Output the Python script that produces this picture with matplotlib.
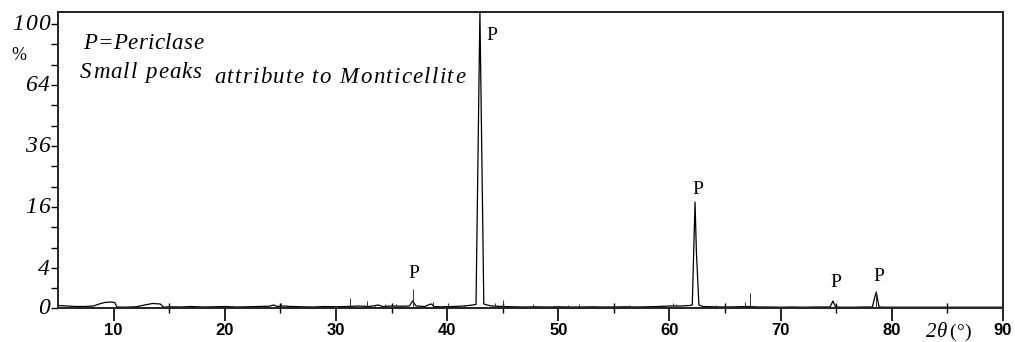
import numpy as np
import matplotlib.pyplot as plt
from matplotlib.ticker import FixedLocator, NullFormatter
from matplotlib.transforms import IdentityTransform

# Continuous XRD trace (2theta in degrees, relative intensity in %)
trace_2theta = [5.0, 5.8, 6.6, 7.4, 8.2, 8.7, 9.2, 9.8, 10.1, 10.3, 11.0, 12.0, 12.8,
                13.5, 14.2, 14.5, 15.0, 16.0, 17.0, 18.0, 19.0, 20.0, 21.0, 22.0, 23.0,
                24.0, 24.4, 24.7, 25.3, 26.0, 27.0, 28.0, 29.0, 30.0, 31.0, 32.0, 33.0,
                33.8, 34.2, 35.0, 36.0, 36.6, 36.9, 37.2, 38.0, 38.4, 38.6, 38.8, 39.5,
                40.5, 41.5, 42.3, 42.6, 42.95, 43.3, 43.6, 44.0, 45.0, 46.0, 47.0, 48.0,
                49.0, 50.0, 51.0, 52.0, 53.0, 54.0, 55.0, 56.0, 57.0, 58.0, 59.0, 60.0,
                61.0, 61.8, 62.05, 62.3, 62.42, 62.65, 63.0, 64.0, 65.0, 66.0, 67.0, 68.0,
                69.0, 70.0, 71.0, 72.0, 73.0, 74.0, 74.45, 74.7, 74.95, 75.5, 76.5, 77.5,
                78.25, 78.45, 78.6, 78.85, 79.3, 80.0, 81.0, 82.0, 83.0, 84.0, 85.0, 86.0,
                87.0, 88.0, 89.0, 90.0]
trace_counts = [0.25, 0.2, 0.15, 0.15, 0.2, 0.4, 0.55, 0.6, 0.55, 0.1, 0.08, 0.12, 0.3,
                0.45, 0.4, 0.08, 0.12, 0.1, 0.15, 0.1, 0.12, 0.15, 0.1, 0.12, 0.15,
                0.18, 0.3, 0.15, 0.2, 0.15, 0.12, 0.1, 0.15, 0.12, 0.15, 0.2, 0.15,
                0.3, 0.15, 0.2, 0.18, 0.2, 0.7, 0.2, 0.15, 0.35, 0.4, 0.15, 0.12,
                0.15, 0.2, 0.3, 0.35, 108.0, 0.4, 0.3, 0.2, 0.15, 0.12, 0.1, 0.12,
                0.1, 0.12, 0.1, 0.1, 0.12, 0.1, 0.1, 0.12, 0.1, 0.12, 0.15, 0.2,
                0.2, 0.25, 0.3, 17.3, 6.5, 0.3, 0.15, 0.12, 0.1, 0.12, 0.15, 0.1,
                0.1, 0.08, 0.1, 0.08, 0.1, 0.1, 0.1, 0.7, 0.1, 0.08, 0.08, 0.1,
                0.1, 1.0, 1.6, 0.1, 0.08, 0.08, 0.08, 0.08, 0.08, 0.08, 0.08, 0.08,
                0.08, 0.08, 0.08, 0.08]

# Narrow reflections (monticellite and noise sticks)
stick_2theta = [24.6, 25.1, 31.3, 32.8, 33.5, 34.4, 35.4, 36.9, 38.7, 40.1, 41.5,
                44.3, 45.0, 47.7, 50.9, 51.9, 54.5, 56.4, 57.0, 60.3, 60.6, 64.2,
                66.8, 67.2, 78.6]
stick_counts = [0.3, 0.55, 1.0, 0.7, 0.3, 0.4, 0.45, 1.9, 0.6, 0.5, 0.3,
                0.5, 0.8, 0.4, 0.35, 0.4, 0.25, 0.3, 0.25, 0.5, 0.4, 0.3,
                0.6, 1.5, 1.6]

# Periclase reflections and the intensity the "P" labels sit above
periclase_2theta = [36.9, 42.95, 62.3, 74.7, 78.6]
periclase_counts = [1.9, 100.0, 17.3, 0.7, 1.6]
label_offsets = [(1, 5), (5, -2), (2, 3), (2, 7), (2, 5)]

y_major = [0, 4, 16, 36, 64, 100]
x_major = [10, 20, 30, 40, 50, 60, 70, 80, 90]
x_minor = [15, 25, 35, 45, 55, 65, 75, 85]

W, H = 1015, 342
SERIF = 'Liberation Serif'

# square-root intensity axis, linear below 4 %
LOW = 0.689


def fwd(v):
    v = np.asarray(v, dtype=float)
    return np.where(v >= 4, np.sqrt(np.clip(v, 4, None)), LOW + (2 - LOW) / 4 * v)


def inv(u):
    u = np.asarray(u, dtype=float)
    return np.where(u >= 2, np.clip(u, 2, None) ** 2, (u - LOW) * 4 / (2 - LOW))


fig = plt.figure(figsize=(W / 100, H / 100), dpi=100)
renderer = fig.canvas.get_renderer()


def spaced_text(x, y, s, size, width=None, track=0.0, right=False, **kw):
    """Letter-spaced text placed in pixels (y measured from the top).
    Returns the x pixel where the text ends."""
    kw.setdefault('family', SERIF)
    kw.setdefault('style', 'italic')
    widths = []
    for ch in s:
        if ch == ' ':
            widths.append(size * 100 / 72 * 0.25)
            continue
        t = fig.text(0, 0, ch, fontsize=size, **kw)
        widths.append(t.get_window_extent(renderer).width)
        t.remove()
    natural = sum(widths)
    if width is not None and len(s) > 1:
        track = (width - natural) / (len(s) - 1)
    total = natural + track * (len(s) - 1)
    cx = x - total if right else x
    for ch, w in zip(s, widths):
        if ch != ' ':
            fig.text(cx, H - y, ch, fontsize=size, transform=IdentityTransform(),
                     va='baseline', ha='left', **kw)
        cx += w + track
    return cx - track


ax = fig.add_axes([58 / W, 1 - 308 / H, 945 / W, 296 / H])
ax.set_yscale('function', functions=(fwd, inv))

ax.plot(trace_2theta, trace_counts, color='black', lw=0.9)
ax.vlines(stick_2theta, 0, stick_counts, color='#333333', lw=0.7)

ax.set_xlim(5, 90)
ax.set_ylim(0, 108)

for x, c, (dx, dy) in zip(periclase_2theta, periclase_counts, label_offsets):
    if c >= 100:
        ax.annotate('P', (x, c), xytext=(dx, dy), textcoords='offset points',
                    fontsize=14, family=SERIF, ha='left', va='top')
    else:
        ax.annotate('P', (x, c), xytext=(dx, dy), textcoords='offset points',
                    fontsize=14, family=SERIF, ha='center', va='bottom')

spaced_text(83, 49, 'P=Periclase', 16.5, width=120)
spaced_text(80, 78, 'Small peaks', 16.5, width=122)
spaced_text(214, 83, 'attribute to Monticellite', 16.5, width=251)

# axes styling
for s in ax.spines.values():
    s.set_linewidth(1.4)
    s.set_color('#222222')

ax.yaxis.set_major_locator(FixedLocator(y_major))
maj_u = fwd(y_major)
minor_u = [(maj_u[0] + maj_u[1]) / 2]
for a, b in zip(maj_u[1:-1], maj_u[2:]):
    minor_u += [a + (b - a) / 3, a + 2 * (b - a) / 3]
ax.yaxis.set_minor_locator(FixedLocator(inv(minor_u)))
ax.yaxis.set_minor_formatter(NullFormatter())
ax.yaxis.set_major_formatter(NullFormatter())
ax.tick_params(axis='y', which='both', direction='out', length=5, width=1, pad=2)

# y tick labels are letter-spaced italics, placed at the tick positions
to_px = ax.transData
for v in y_major:
    ypix = H - to_px.transform((5, v))[1]
    spaced_text(50, ypix + 6.5, str(v), 17, track=1.0, right=True)

ax.xaxis.set_major_locator(FixedLocator(x_major))
ax.xaxis.set_minor_locator(FixedLocator(x_minor))
ax.set_xticklabels([str(v) for v in x_major], family='Liberation Sans',
                   fontweight='bold', fontsize=12)
ax.tick_params(axis='x', which='major', direction='out', length=9, width=1.2, pad=2)
ax.tick_params(axis='x', which='minor', direction='inout', length=7, width=1)

spaced_text(11, 60, '%', 13, style='normal')
end = spaced_text(926, 337, '2θ', 15, track=0.5)
spaced_text(end + 1.5, 337, '(°)', 14, style='normal', track=0.5)

fig.savefig('out.png', dpi=100, facecolor='white')
